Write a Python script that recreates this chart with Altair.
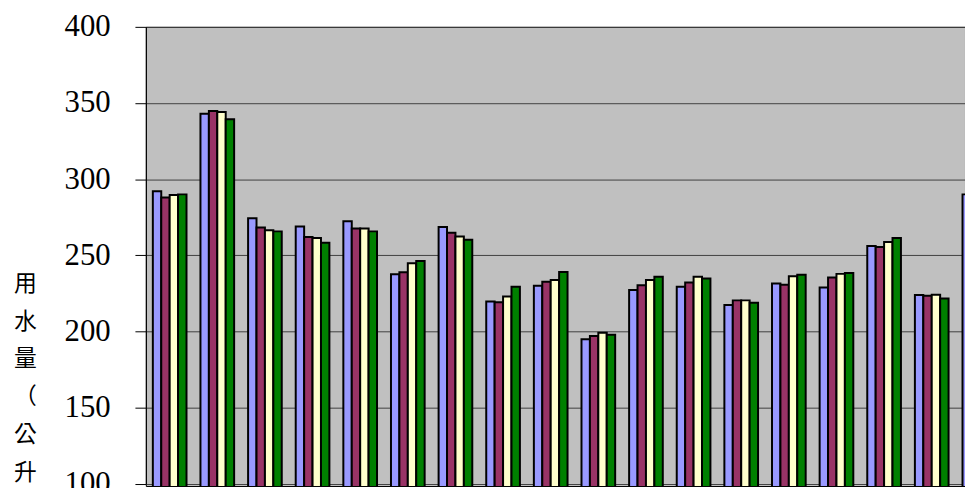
import altair as alt
import pandas as pd

groups = [f"第{i}組" for i in range(1, 19)]
series = ["系列1", "系列2", "系列3", "系列4"]
colors = ["#9999FF", "#993366", "#FFFFCC", "#008000"]

s1 = [292.0, 343.0, 274.3, 268.9, 272.4, 237.6, 268.5, 219.6, 230.0, 194.8,
      227.2, 229.3, 217.4, 231.5, 228.9, 256.1, 223.9, 290.0]
s2 = [288.0, 344.8, 268.3, 262.0, 267.6, 238.9, 264.8, 219.1, 232.6, 197.0,
      230.4, 232.2, 220.4, 230.7, 235.4, 255.4, 223.5, None]
s3 = [289.6, 344.1, 266.5, 261.3, 267.6, 244.8, 262.4, 223.0, 233.7, 199.1,
      233.7, 235.9, 220.4, 236.3, 237.8, 258.7, 224.1, None]
s4 = [290.0, 339.3, 265.7, 258.3, 265.7, 246.3, 260.2, 229.3, 239.1, 197.8,
      235.9, 234.8, 218.9, 237.2, 238.3, 261.3, 221.7, None]

y_ticks = [100, 150, 200, 250, 300, 350, 400]
y_title = ["用", "水", "量", "（", "公", "升", "）"]

rows = []
for name, vals in zip(series, [s1, s2, s3, s4]):
    for g, v in zip(groups, vals):
        if v is not None:
            rows.append({"組": g, "系列": name, "用水量": v})
df = pd.DataFrame(rows)

chart = alt.Chart(df).mark_bar(stroke="black", strokeWidth=2, clip=True).encode(
    x=alt.X("組:N", sort=groups,
            scale=alt.Scale(range=[0, 864.5], paddingInner=0.293, paddingOuter=0.1467,
                            round=False),
            axis=None),
    xOffset=alt.XOffset("系列:N", sort=series, scale=alt.Scale(round=False)),
    y=alt.Y("用水量:Q",
            scale=alt.Scale(domain=[100, 400], range=[460.7, 0], nice=False, zero=False),
            axis=alt.Axis(values=y_ticks, title=y_title, titleAngle=0,
                          titleFont="Noto Sans CJK TC", titleFontSize=23,
                          titleFontWeight="normal", titleLineHeight=38,
                          titleX=-122, titleY=248, titleAlign="center",
                          titleBaseline="top", titleColor="black",
                          labelFont="Liberation Serif", labelFontSize=31,
                          labelColor="black", labelPadding=25,
                          tickSize=11, tickColor="black", domainColor="black",
                          grid=True, gridColor="#404040", gridWidth=1)),
    color=alt.Color("系列:N", scale=alt.Scale(domain=series, range=colors), legend=None),
).properties(
    width=826, height=463,
    padding={"left": 139, "top": 17, "right": 0, "bottom": 0},
    autosize=alt.AutoSizeParams(type="none"),
    background="white",
).configure_view(fill="#C0C0C0", stroke="black", strokeWidth=1)

chart.save("out.html", embed_options={"renderer": "svg", "actions": False})
